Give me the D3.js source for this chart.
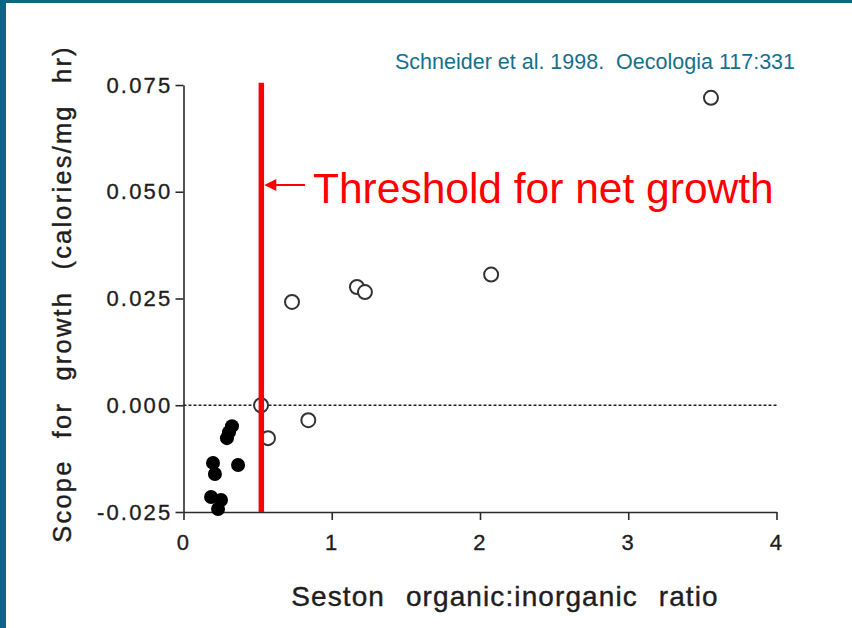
<!DOCTYPE html>
<html>
<head>
<meta charset="utf-8">
<script src="https://cdn.jsdelivr.net/npm/d3@7"></script>
<style>
  html, body { margin: 0; padding: 0; background: #fff; }
  svg { display: block; }
  text { font-family: "Liberation Sans", Arial, Helvetica, sans-serif; }
</style>
</head>
<body>
<svg id="chart" width="852" height="628"></svg>
<script>
// Seston organic:inorganic ratio (x) vs scope for growth (y)
const openX = [3.558, 2.075, 1.170, 1.224, 0.732, 0.523, 0.570, 0.842];
const openY = [0.0720, 0.0306, 0.0277, 0.0265, 0.0242, 0.0000, -0.0077, -0.0035];

const filledX = [0.327, 0.307, 0.293, 0.199, 0.212, 0.368, 0.186, 0.253, 0.233];
const filledY = [-0.0049, -0.0063, -0.0077, -0.0135, -0.0161, -0.0140, -0.0215, -0.0222, -0.0243];

const xTicks = [0, 1, 2, 3, 4];
const yTicks = [-0.025, 0.000, 0.025, 0.050, 0.075];
const yTickLabels = ["-0.025", "0.000", "0.025", "0.050", "0.075"];

const threshold = 0.525;

const svg = d3.select("#chart");

// frame edges
svg.append("rect").attr("x", 0).attr("y", 0).attr("width", 852).attr("height", 3).attr("fill", "#0b6583");
svg.append("rect").attr("x", 0).attr("y", 0).attr("width", 6).attr("height", 628).attr("fill", "#0b6583");

const x = d3.scaleLinear().domain([0, 4]).range([183.5, 776.5]);
const y = d3.scaleLinear().domain([-0.025, 0.075]).range([512, 85]);

const axisColor = "#2a2a2a";
const inkColor = "#1e1e1e";

// y axis
const gy = svg.append("g").attr("transform", `translate(${x(0)},0)`)
  .call(d3.axisLeft(y).tickValues(yTicks).tickSize(8).tickSizeOuter(0).tickPadding(3)
    .tickFormat((d, i) => yTickLabels[i]));
// x axis
const gx = svg.append("g").attr("transform", `translate(0,${y(-0.025)})`)
  .call(d3.axisBottom(x).tickValues(xTicks).tickSize(8).tickSizeOuter(0).tickPadding(14)
    .tickFormat(d3.format("d")));

[gx, gy].forEach(g => {
  g.select(".domain").attr("stroke", axisColor).attr("stroke-width", 1.6);
  g.selectAll(".tick line").attr("stroke", axisColor).attr("stroke-width", 1.6);
  g.selectAll(".tick text").attr("fill", inkColor).style("font-size", "22px")
    .style("letter-spacing", "2.2px")
    .attr("stroke", inkColor).attr("stroke-width", 0.35);
});

// zero reference line
svg.append("line")
  .attr("x1", x(0)).attr("x2", x(4))
  .attr("y1", y(0)).attr("y2", y(0))
  .attr("stroke", "#222").attr("stroke-width", 1.5)
  .attr("stroke-dasharray", "3,2");

// open circles
svg.append("g").selectAll("circle")
  .data(openX.map((v, i) => [v, openY[i]]))
  .join("circle")
  .attr("cx", d => x(d[0])).attr("cy", d => y(d[1])).attr("r", 7)
  .attr("fill", "#fff").attr("stroke", "#333").attr("stroke-width", 2);

// filled circles
svg.append("g").selectAll("circle")
  .data(filledX.map((v, i) => [v, filledY[i]]))
  .join("circle")
  .attr("cx", d => x(d[0])).attr("cy", d => y(d[1])).attr("r", 7)
  .attr("fill", "#000");

// threshold line
svg.append("line")
  .attr("x1", x(threshold)).attr("x2", x(threshold))
  .attr("y1", y(0.0755)).attr("y2", y(-0.025))
  .attr("stroke", "#ff0000").attr("stroke-width", 5.5);

// annotation arrow
const ax0 = x(threshold) + 3, ax1 = 305, ay = 185;
svg.append("line").attr("x1", ax0 + 8).attr("x2", ax1).attr("y1", ay).attr("y2", ay)
  .attr("stroke", "#ff0000").attr("stroke-width", 2);
svg.append("path")
  .attr("d", `M${ax0},${ay} L${ax0 + 12},${ay - 6} L${ax0 + 12},${ay + 6} Z`)
  .attr("fill", "#ff0000");
svg.append("text").attr("x", 313).attr("y", 203)
  .attr("fill", "#ff0000").style("font-size", "42.5px")
  .text("Threshold for net growth");

// citation
svg.append("text").attr("x", 395).attr("y", 69)
  .attr("fill", "#16708c").style("font-size", "21.5px").style("white-space", "pre")
  .text("Schneider et al. 1998.  Oecologia 117:331");

// axis titles
svg.append("text")
  .attr("transform", "translate(71,294) rotate(-90)")
  .attr("text-anchor", "middle").attr("fill", inkColor)
  .attr("stroke", inkColor).attr("stroke-width", 0.4)
  .style("font-size", "25.5px").style("letter-spacing", "2.2px").style("word-spacing", "12px")
  .text("Scope for growth (calories/mg hr)");

svg.append("text")
  .attr("x", 505).attr("y", 606)
  .attr("text-anchor", "middle").attr("fill", inkColor)
  .attr("stroke", inkColor).attr("stroke-width", 0.4)
  .style("font-size", "28px").style("letter-spacing", "1.1px").style("word-spacing", "12px")
  .text("Seston organic:inorganic ratio");
</script>
</body>
</html>
